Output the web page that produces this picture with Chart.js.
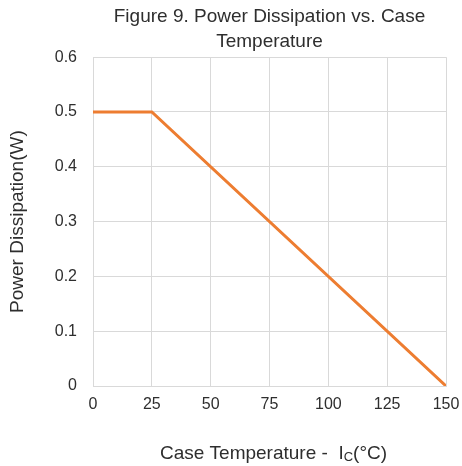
<!DOCTYPE html>
<html><head><meta charset="utf-8">
<script src="https://cdn.jsdelivr.net/npm/chart.js@4/dist/chart.umd.min.js"></script>
<style>html,body{margin:0;padding:0;background:#fff}#wrap{width:462px;height:466px}</style>
</head><body><div id="wrap"><canvas id="c" width="462" height="466"></canvas></div>
<script>
const caseTemp = [0, 25, 150];
const powerW = [0.5, 0.5, 0];
const titleLines = ['Figure 9. Power Dissipation vs. Case', 'Temperature'];
const yTitle = 'Power Dissipation(W)';
const xTitleMain = 'Case Temperature -  I';
const xTitleSub = 'C';
const xTitleTail = '(°C)';
const FONT = "'Liberation Sans', Arial, sans-serif";
const TXT = '#2e2e2e';

const xTitlePlugin = {
  id: 'xTitle',
  afterDraw(chart) {
    const ctx = chart.ctx, a = chart.chartArea;
    ctx.save();
    ctx.fillStyle = TXT;
    ctx.textBaseline = 'alphabetic';
    ctx.font = '19px ' + FONT;
    const w1 = ctx.measureText(xTitleMain).width;
    const w3 = ctx.measureText(xTitleTail).width;
    ctx.font = '13px ' + FONT;
    const w2 = ctx.measureText(xTitleSub).width;
    const total = w1 + w2 + w3;
    let x = (a.left + a.right) / 2 - total / 2 + 4;
    const y = 459;
    ctx.font = '19px ' + FONT;
    ctx.fillText(xTitleMain, x, y); x += w1;
    ctx.font = '13px ' + FONT;
    ctx.fillText(xTitleSub, x, y + 2); x += w2;
    ctx.font = '19px ' + FONT;
    ctx.fillText(xTitleTail, x, y);
    ctx.restore();
  }
};

new Chart(document.getElementById('c'), {
  type: 'scatter',
  data: {
    datasets: [{
      data: caseTemp.map((t, i) => ({x: t, y: powerW[i]})),
      showLine: true,
      borderColor: '#ED7D31',
      borderWidth: 3,
      pointRadius: 0,
      tension: 0
    }]
  },
  options: {
    responsive: false,
    animation: false,
    layout: {padding: {top: 0, right: 16, bottom: 0, left: 0}},
    plugins: {
      legend: {display: false},
      tooltip: {enabled: false},
      title: {
        display: true,
        text: titleLines,
        fullSize: false,
        color: TXT,
        font: {family: FONT, size: 19, weight: 'normal', lineHeight: 1.32},
        padding: {top: 4, bottom: 3}
      }
    },
    scales: {
      x: {
        type: 'linear', min: 0, max: 150,
        ticks: {stepSize: 25, color: TXT, font: {family: FONT, size: 16}, padding: 9, maxRotation: 0},
        grid: {color: '#d9d9d9', lineWidth: 1, drawTicks: false},
        border: {color: '#d9d9d9'},
        afterFit(s) { s.height = 80; s.paddingRight = 0; s.paddingLeft = 0; }
      },
      y: {
        min: 0, max: 0.6,
        ticks: {stepSize: 0.1, color: TXT, font: {family: FONT, size: 16}, padding: 16,
          callback: v => String(Number(v.toFixed(1)))},
        grid: {color: '#d9d9d9', lineWidth: 1, drawTicks: false},
        border: {color: '#d9d9d9'},
        title: {display: true, text: yTitle, color: TXT, font: {family: FONT, size: 19}, padding: {top: 6, bottom: 0}},
        afterFit(s) { s.width = 93; s.paddingTop = 0; s.paddingBottom = 0; }
      }
    }
  },
  plugins: [xTitlePlugin]
});
</script></body></html>
